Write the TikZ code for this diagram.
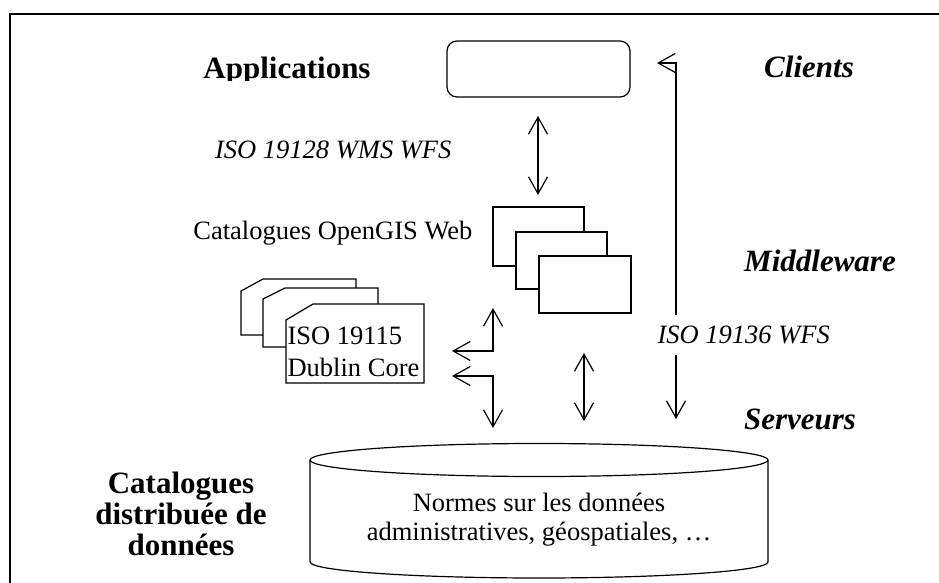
\documentclass[tikz,border=0pt]{standalone}
\usepackage{fontspec}
\setmainfont{Liberation Serif}
\usetikzlibrary{arrows.meta}
\begin{document}
\begin{tikzpicture}[x=1pt,y=-1pt, line width=1.2pt,
  >={Straight Barb[length=17pt,width=19pt]},
  txt/.style={inner sep=0pt, font=\fontsize{26.5}{31}\selectfont},
  itxt/.style={inner sep=0pt, font=\fontsize{26.5}{31}\selectfont\itshape},
  btxt/.style={inner sep=0pt, font=\fontsize{31}{31}\selectfont\bfseries},
  bitxt/.style={inner sep=0pt, font=\fontsize{31}{31}\selectfont\bfseries\itshape},
  box/.style={draw, fill=white, inner sep=0pt},
  card/.style={draw, fill=white},
  conn/.style={line width=1.2pt}]
\useasboundingbox (0,0) rectangle (939,583);
\clip (0,0) rectangle (939,583);
% frame
\draw[line width=2pt] (10,600) -- (10,14) -- (950,14);
% labels
\begin{scope}
  \clip (150,40) rectangle (420,80.5);
  \node[btxt, anchor=base] (apps) at (287,79) {Applications};
\end{scope}
\node[bitxt, anchor=base] (clients) at (809,78) {Clients};
\node[bitxt, anchor=base] (middle) at (820,271) {Middleware};
\node[bitxt, anchor=base] (serv) at (800,429) {Serveurs};
\node[itxt, anchor=base east] (wms) at (452,158) {ISO 19128 WMS WFS};
\node[txt, anchor=base east] (ogc) at (473,239) {Catalogues OpenGIS Web};
\node[itxt, anchor=base west] (wfs) at (657,343) {ISO 19136 WFS};
\node[btxt, align=center, anchor=base] (cat) at (181,555) {Catalogues\\distribuée de\\données};
% client box
\node[box, rounded corners=10pt, minimum width=183pt, minimum height=56pt] (app) at (538.5,69) {};
% stacked web catalogues
\node[box, minimum width=91pt, minimum height=59pt] (w1) at (538.5,236.5) {};
\node[box, minimum width=91pt, minimum height=57pt] (w2) at (561.5,260.5) {};
\node[box, minimum width=92pt, minimum height=57pt] (w3) at (585,284.5) {};
% metadata cards
\draw[card] (241,291) -- (263,279) -- (356,279) -- (356,335) -- (241,335) -- cycle;
\draw[card] (263,299) -- (285,288) -- (378,288) -- (378,347) -- (263,347) -- cycle;
\draw[card] (286,320) -- (313,304) -- (424,304) -- (424,383) -- (286,383) -- cycle;
\node[inner sep=0pt, font=\fontsize{26.5}{32}\selectfont, anchor=base west, align=left] (iso) at (287,376) {ISO 19115\\Dublin Core};
% database cylinder
\draw (310,460) -- (310,562) arc[start angle=180, end angle=0, x radius=229, y radius=16] -- (768,460);
\draw (539,460) ellipse [x radius=229, y radius=16.5];
\node[inner sep=0pt, font=\fontsize{26.5}{29}\selectfont, align=center, anchor=base] (norm) at (539,540) {Normes sur les données\\administratives, géospatiales, …};
% connectors
\coordinate (t1) at (538,116); \coordinate (t2) at (538,195);
\draw[conn,<->] (t1) -- (t2);
\coordinate (l1) at (452,351); \coordinate (l2) at (493,351); \coordinate (l3) at (493,308);
\draw[conn,<->] (l1) -- (l2) -- (l3);
\coordinate (m1) at (452,376); \coordinate (m2) at (493,376); \coordinate (m3) at (493,428);
\draw[conn,<->] (m1) -- (m2) -- (m3);
\coordinate (c1) at (584,353); \coordinate (c2) at (584,421);
\draw[conn,<->] (c1) -- (c2);
\coordinate (r1) at (676,315); \coordinate (r2) at (676,63); \coordinate (r3) at (657,63);
\draw[conn,->] (r1) -- (r2) -- (r3);
\coordinate (s1) at (676,355); \coordinate (s2) at (676,419);
\draw[conn,->] (s1) -- (s2);
\end{tikzpicture}
\end{document}
